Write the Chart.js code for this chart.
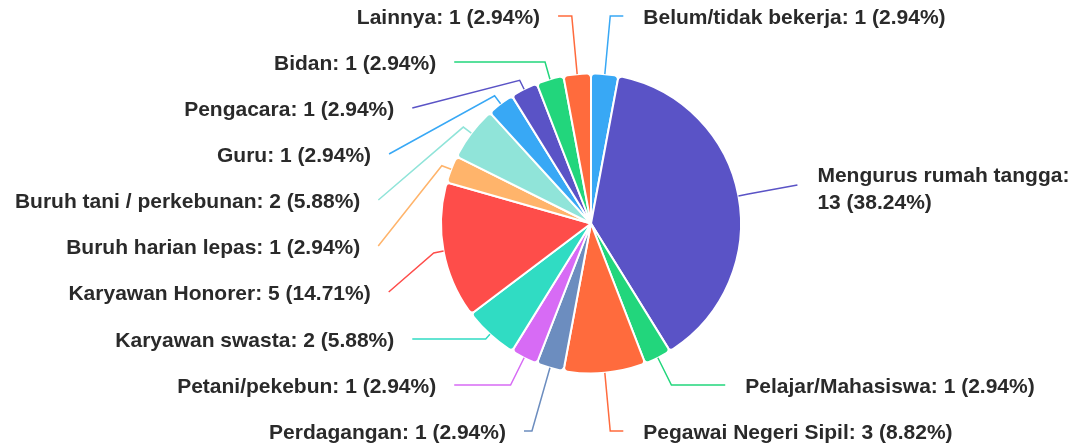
<!DOCTYPE html>
<html>
<head>
<meta charset="utf-8">
<script src="https://cdn.jsdelivr.net/npm/chart.js@4.4.0/dist/chart.umd.min.js"></script>
<style>
  html, body { margin: 0; padding: 0; background: #fff; }
  #wrap { width: 1090px; height: 447px; }
</style>
</head>
<body>
<div id="wrap"><canvas id="pekerjaanChart" width="1090" height="447"></canvas></div>
<script>
const labels = [
  'Belum/tidak bekerja',
  'Mengurus rumah tangga',
  'Pelajar/Mahasiswa',
  'Pegawai Negeri Sipil',
  'Perdagangan',
  'Petani/pekebun',
  'Karyawan swasta',
  'Karyawan Honorer',
  'Buruh harian lepas',
  'Buruh tani / perkebunan',
  'Guru',
  'Pengacara',
  'Bidan',
  'Lainnya'
];
const counts = [1, 13, 1, 3, 1, 1, 2, 5, 1, 2, 1, 1, 1, 1];
const colors = [
  '#38a8f5', '#5a53c6', '#22d67c', '#ff6b3d', '#6c8dbf',
  '#d76bf5', '#30dcc3', '#fe4d4a', '#ffb46b', '#90e4d9',
  '#38a8f5', '#5a53c6', '#22d67c', '#ff6b3d'
];

const LABEL_FONT = 'bold 21px "Liberation Sans", Arial, sans-serif';
const LABEL_RADIUS = 210;
const LABEL_GAP = 46;

// labels outside the pie with leader lines
const outLabels = {
  id: 'outLabels',
  afterDatasetsDraw(chart) {
    const ctx = chart.ctx;
    const meta = chart.getDatasetMeta(0);
    const total = counts.reduce((a, b) => a + b, 0);
    const top = 16, bottom = chart.height - 16;

    const items = meta.data.map((arc, i) => {
      const p = arc.getProps(['x', 'y', 'startAngle', 'endAngle', 'outerRadius']);
      const mid = (p.startAngle + p.endAngle) / 2;
      const cos = Math.cos(mid), sin = Math.sin(mid);
      return {
        i, cx: p.x, cy: p.y, r: p.outerRadius, cos, sin,
        left: cos < 0,
        y: p.y + LABEL_RADIUS * sin
      };
    });

    [true, false].forEach(side => {
      const list = items.filter(it => it.left === side).sort((a, b) => a.y - b.y);
      for (let k = 0; k < list.length; k++) {
        const min = k === 0 ? top : list[k - 1].y + LABEL_GAP;
        list[k].y = Math.max(list[k].y, min);
      }
      for (let k = list.length - 1; k >= 0; k--) {
        const max = k === list.length - 1 ? bottom : list[k + 1].y - LABEL_GAP;
        list[k].y = Math.min(list[k].y, max);
      }
    });

    ctx.save();
    ctx.font = LABEL_FONT;
    ctx.textBaseline = 'middle';
    items.forEach(it => {
      const ax = it.cx + it.r * it.cos, ay = it.cy + it.r * it.sin;
      let ex = it.cx + (it.r + 10) * it.cos, ey = it.cy + (it.r + 10) * it.sin;
      const t = (it.y - ay) / it.sin;
      if (Math.abs(it.sin) > 0.5 && t >= 0 && t < 80) {
        ex = ax + t * it.cos;
        ey = it.y;
      }
      const rx = it.left ? LABEL_RADIUS + 4 : LABEL_RADIUS;
      const k = (it.y - it.cy) / LABEL_RADIUS;
      const dx = rx * Math.sqrt(Math.max(0, 1 - k * k));
      const endX = it.left ? Math.min(it.cx - dx, ex - 8) : Math.max(it.cx + dx, ex + 6);

      ctx.strokeStyle = colors[it.i];
      ctx.lineWidth = 1.5;
      ctx.beginPath();
      ctx.moveTo(ax, ay);
      ctx.lineTo(ex, ey);
      ctx.lineTo(endX, it.y);
      ctx.stroke();

      const pct = (counts[it.i] / total * 100).toFixed(2);
      const head = labels[it.i] + ':';
      const tail = counts[it.i] + ' (' + pct + '%)';
      const full = head + ' ' + tail;
      ctx.fillStyle = '#2a2a2a';
      if (it.left) {
        ctx.textAlign = 'right';
        ctx.fillText(full, endX - 18, it.y + 2);
      } else {
        ctx.textAlign = 'left';
        const tx = endX + 20;
        if (tx + ctx.measureText(full).width > chart.width - 4) {
          ctx.fillText(head, tx, it.y - 9);
          ctx.fillText(tail, tx, it.y + 18);
        } else {
          ctx.fillText(full, tx, it.y + 2);
        }
      }
    });
    ctx.restore();
  }
};

new Chart(document.getElementById('pekerjaanChart'), {
  type: 'pie',
  data: {
    labels: labels,
    datasets: [{
      data: counts,
      backgroundColor: colors,
      borderColor: '#ffffff',
      borderWidth: 2,
      borderRadius: 4,
      radius: 150,
      hoverOffset: 0
    }]
  },
  options: {
    responsive: false,
    animation: false,
    layout: { padding: { left: 92 } },
    plugins: {
      legend: { display: false },
      tooltip: { enabled: false }
    }
  },
  plugins: [outLabels]
});
</script>
</body>
</html>
